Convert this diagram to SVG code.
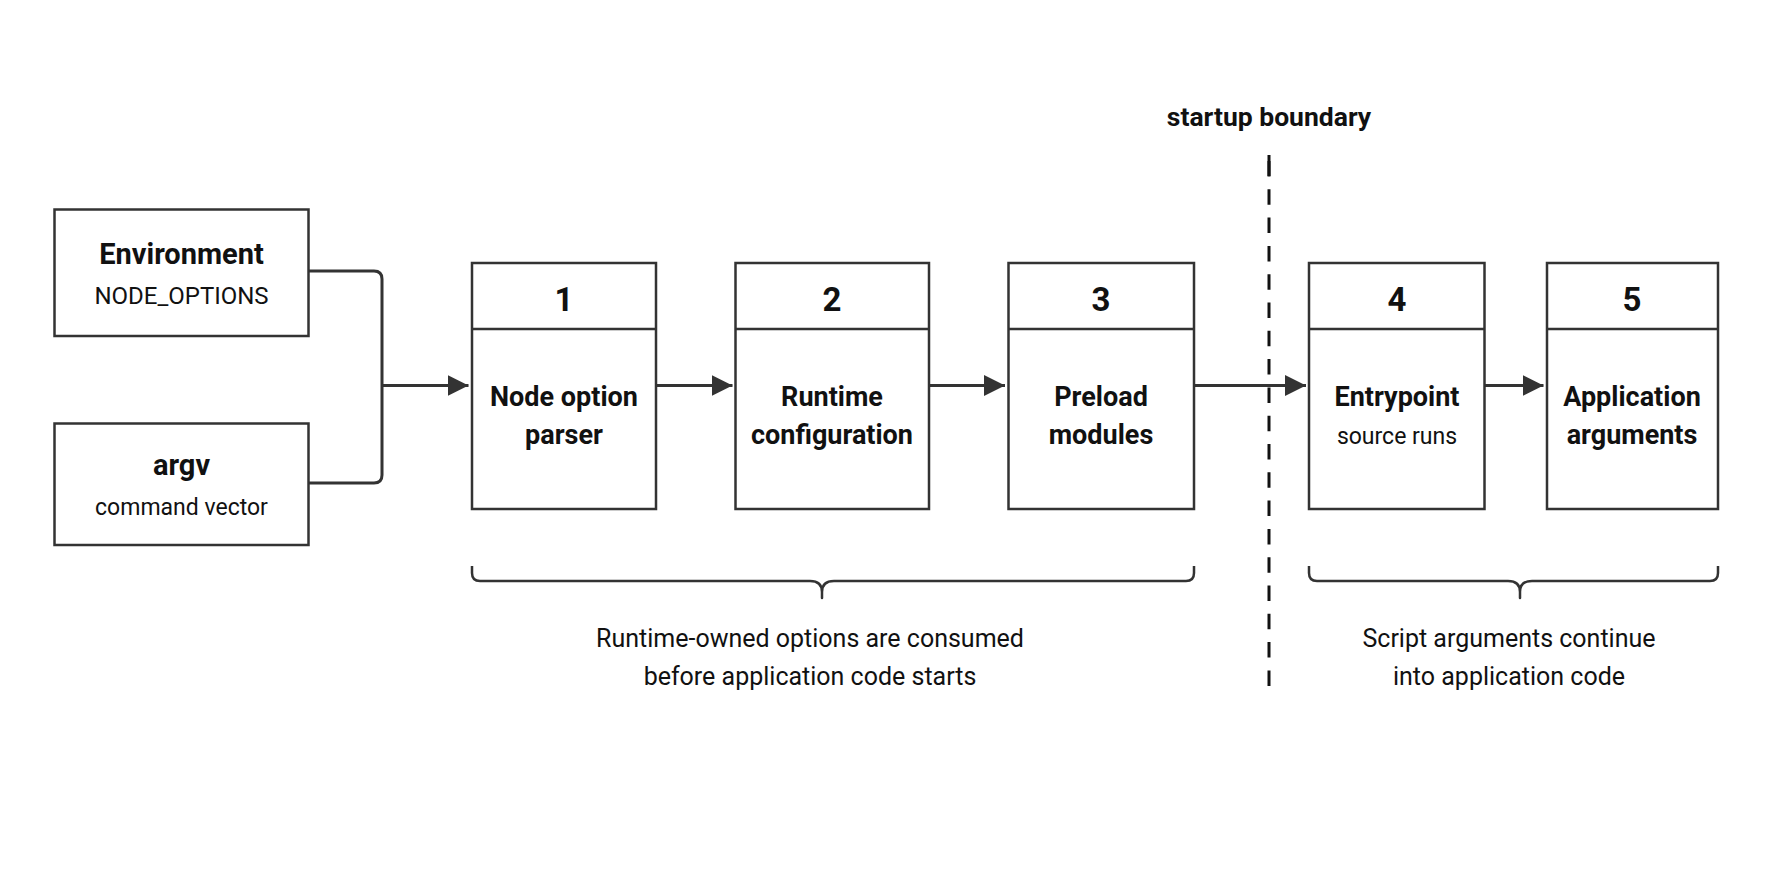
<svg xmlns="http://www.w3.org/2000/svg" width="1774" height="887" viewBox="0 0 1774 887">
<defs>
<style>
.box{fill:#fff;stroke:#333;stroke-width:2.5}
.div{stroke:#333;stroke-width:2.5}
.ln{fill:none;stroke:#333;stroke-width:3}
.br{fill:none;stroke:#333;stroke-width:2.5;stroke-linejoin:round}
.t{font-family:Roboto,"Liberation Sans",sans-serif;fill:#111;text-anchor:middle}
.b{font-weight:700;font-size:27px}
.bt{font-weight:700;font-size:29px}
.num{font-weight:700;font-size:33px}
.r{font-weight:400;font-size:23px}
.rs{font-weight:400;font-size:24px}
.cap{font-weight:400;font-size:25px}
</style>
<marker id="ah" markerWidth="21" markerHeight="21" refX="21" refY="10.5" orient="auto" markerUnits="userSpaceOnUse">
<path d="M0,0 L21,10.5 L0,21 Z" fill="#333"/>
</marker>
</defs>
<rect width="1774" height="887" fill="#fff"/>

<g id="connectors">
<path class="ln" d="M309,271 H374 Q382,271 382,279 V475 Q382,483 374,483 H309"/>
<line class="ln" x1="382" y1="385.5" x2="468.5" y2="385.5" marker-end="url(#ah)"/>
<line class="ln" x1="656" y1="385.5" x2="732.5" y2="385.5" marker-end="url(#ah)"/>
<line class="ln" x1="929" y1="385.5" x2="1005" y2="385.5" marker-end="url(#ah)"/>
<line class="ln" x1="1194" y1="385.5" x2="1306" y2="385.5" marker-end="url(#ah)"/>
<line class="ln" x1="1484.5" y1="385.5" x2="1543.5" y2="385.5" marker-end="url(#ah)"/>
</g>

<g id="boundary">
<line x1="1269" y1="161" x2="1269" y2="686" stroke="#111" stroke-width="3" stroke-dasharray="15.5 12.8"/>
<line x1="1269" y1="155" x2="1269" y2="176" stroke="#111" stroke-width="3"/>
<text class="t" x="1269" y="126" style="font-weight:700;font-size:26.5px">startup boundary</text>
</g>

<g id="env">
<rect class="box" x="54.5" y="209.5" width="254" height="126.5"/>
<text class="t bt" x="181.5" y="264">Environment</text>
<text class="t rs" x="181.5" y="304">NODE_OPTIONS</text>
</g>

<g id="argv">
<rect class="box" x="54.5" y="423.5" width="254" height="121.5"/>
<text class="t bt" x="181.5" y="475">argv</text>
<text class="t r" x="181.5" y="515">command vector</text>
</g>

<g id="step1">
<rect class="box" x="472" y="263" width="184" height="246"/>
<line class="div" x1="472" y1="329" x2="656" y2="329"/>
<text class="t num" x="564" y="311">1</text>
<text class="t b" x="564" y="406">Node option</text>
<text class="t b" x="564" y="444">parser</text>
</g>

<g id="step2">
<rect class="box" x="735.5" y="263" width="193.5" height="246"/>
<line class="div" x1="735.5" y1="329" x2="929" y2="329"/>
<text class="t num" x="832" y="311">2</text>
<text class="t b" x="832" y="406">Runtime</text>
<text class="t b" x="832" y="444">configuration</text>
</g>

<g id="step3">
<rect class="box" x="1008.5" y="263" width="185.5" height="246"/>
<line class="div" x1="1008.5" y1="329" x2="1194" y2="329"/>
<text class="t num" x="1101" y="311">3</text>
<text class="t b" x="1101" y="406">Preload</text>
<text class="t b" x="1101" y="444">modules</text>
</g>

<g id="step4">
<rect class="box" x="1309" y="263" width="175.5" height="246"/>
<line class="div" x1="1309" y1="329" x2="1484.5" y2="329"/>
<text class="t num" x="1397" y="311">4</text>
<text class="t b" x="1397" y="406">Entrypoint</text>
<text class="t r" x="1397" y="444">source runs</text>
</g>

<g id="step5">
<rect class="box" x="1547" y="263" width="171" height="246"/>
<line class="div" x1="1547" y1="329" x2="1718" y2="329"/>
<text class="t num" x="1632" y="311">5</text>
<text class="t b" x="1632" y="406">Application</text>
<text class="t b" x="1632" y="444">arguments</text>
</g>

<g id="brace-runtime">
<path class="br" d="M472,566 V573 Q472,581 480,581 H810 Q822,581 822,592 V598 V592 Q822,581 834,581 H1186 Q1194,581 1194,573 V566"/>
<text class="t cap" x="810" y="647">Runtime-owned options are consumed</text>
<text class="t cap" x="810" y="685">before application code starts</text>
</g>

<g id="brace-app">
<path class="br" d="M1309,566 V573 Q1309,581 1317,581 H1508 Q1520,581 1520,592 V598 V592 Q1520,581 1532,581 H1710 Q1718,581 1718,573 V566"/>
<text class="t cap" x="1509" y="647">Script arguments continue</text>
<text class="t cap" x="1509" y="685">into application code</text>
</g>
</svg>
